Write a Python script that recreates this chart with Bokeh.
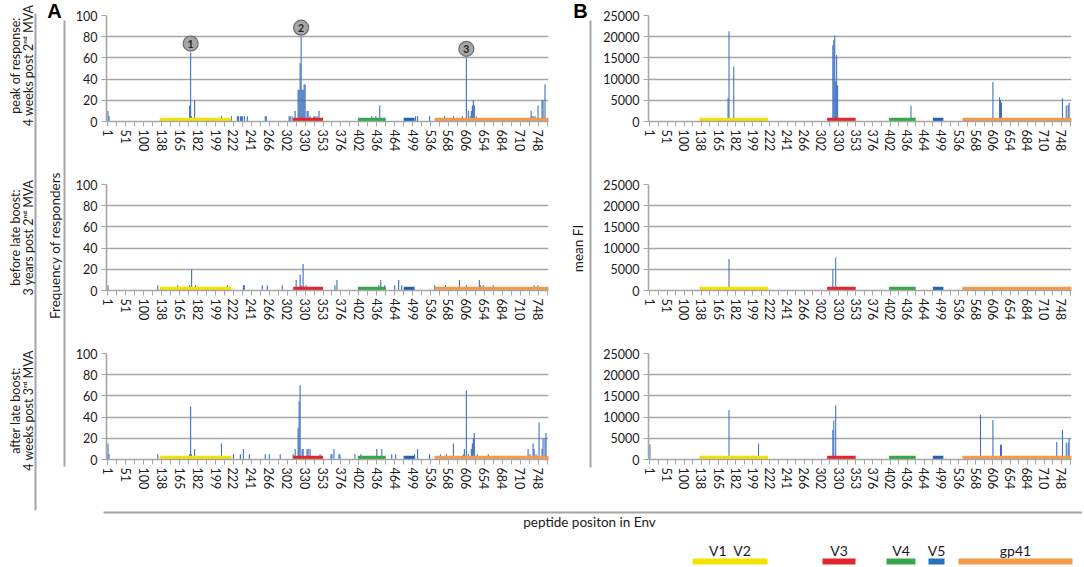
from math import pi
from bokeh.plotting import figure
from bokeh.layouts import row, column
from bokeh.models import Range1d, FixedTicker
from bokeh.core.properties import value
from bokeh.embed import file_html
from bokeh.resources import INLINE

# ---------------- data ----------------
tick_labels = ["1", "51", "100", "138", "165", "182", "199", "222", "241", "266", "302", "330", "353",
               "376", "402", "436", "464", "499", "536", "568", "606", "654", "684", "710", "748"]
label_step = 18          # categories between two labelled peptides
x_first, x_last = -1.5, 442.5

regions = ["V1 \u00a0V2", "V3", "V4", "V5", "gp41"]
region_start = [52, 186, 251, 297, 328]
region_end = [124, 216, 279, 308, 443]

# A: frequency of responders (%), peptide index -> value (others 0)
freq_peak = {0: 10, 1: 5, 82: 15, 83: 65, 84: 5, 87: 20, 114: 5, 124: 5, 130: 5, 131: 5, 133: 5,
             134: 5, 135: 5, 137: 5, 140: 5, 158: 5, 159: 5, 182: 5, 183: 5, 185: 5, 188: 10,
             191: 30, 192: 30, 193: 55, 194: 80, 195: 30, 196: 30, 197: 35, 198: 35, 200: 10,
             201: 10, 203: 5, 207: 5, 208: 5, 210: 5, 212: 10, 265: 5, 269: 5, 273: 15, 309: 5,
             311: 5, 323: 5, 338: 5, 347: 5, 356: 5, 360: 60, 362: 10, 364: 5, 365: 10, 366: 15,
             367: 20, 368: 15, 370: 5, 425: 10, 426: 5, 427: 5, 429: 5, 432: 15, 436: 20, 437: 20,
             439: 35}
freq_before = {0: 5, 50: 5, 70: 5, 82: 5, 84: 20, 88: 5, 120: 5, 136: 5, 137: 5, 155: 5, 160: 5,
               175: 5, 189: 10, 193: 15, 194: 5, 196: 25, 199: 5, 228: 5, 230: 10, 272: 5, 274: 10,
               278: 5, 288: 5, 292: 10, 295: 5, 328: 5, 339: 5, 353: 10, 360: 5, 373: 10, 374: 5,
               377: 5, 387: 5, 428: 5, 432: 5}
freq_after = {0: 15, 1: 5, 50: 5, 82: 5, 83: 50, 84: 5, 87: 10, 114: 15, 126: 5, 133: 5, 136: 10,
              142: 5, 158: 5, 162: 5, 173: 5, 186: 5, 188: 10, 191: 30, 192: 55, 193: 70, 195: 10,
              196: 10, 200: 10, 201: 10, 203: 10, 213: 5, 224: 5, 225: 5, 227: 10, 232: 5, 233: 5,
              248: 5, 254: 5, 270: 10, 275: 10, 285: 5, 289: 5, 308: 5, 311: 10, 323: 5, 334: 5,
              340: 5, 347: 15, 357: 5, 358: 10, 360: 65, 362: 5, 365: 10, 366: 15, 367: 20, 368: 25,
              371: 5, 382: 5, 422: 10, 424: 5, 427: 15, 428: 10, 430: 5, 433: 35, 436: 10, 437: 20,
              439: 20, 440: 25}
# B: mean FI
fi_peak = {82: 5500, 83: 21300, 88: 13000, 192: 18000, 193: 19300, 194: 20300, 195: 9500,
           196: 15700, 197: 8500, 274: 3800, 360: 9300, 367: 5700, 368: 5000, 369: 4400,
           433: 5500, 437: 3800, 439: 3900, 440: 4400}
fi_before = {83: 7400, 192: 5000, 195: 7800}
fi_after = {0: 3600, 83: 11700, 114: 3700, 192: 7000, 193: 9200, 195: 12800, 347: 10500, 360: 9300,
            368: 3500, 369: 3500, 427: 4100, 433: 7000, 437: 4000, 439: 4000, 440: 5100}

annotated = [83, 194, 360]
annot_labels = ["1", "2", "3"]

row_titles = [("peak of response:", "4 weeks post 2ⁿᵈ MVA"),
              ("before late boost:", "3 years post 2ⁿᵈ MVA"),
              ("after late boost:", "4 weeks post 3ʳᵈ MVA")]

# ---------------- style ----------------
FONT = "Lato"
BAR = "#3a6fc0"
GREY = "#a6a6a6"
TXT = "#1a1a1a"
region_colors = ["#f2e400", "#e3262b", "#37a84a", "#1e64b4", "#f39a4b"]
legend_colors = ["#f2e400", "#e3262b", "#37a84a", "#2571c0", "#f39a4b"]

label_ticks = [i * label_step for i in range(len(tick_labels))]
minor_ticks = [i * label_step + label_step // 2 for i in range(len(tick_labels))]


def panel(data, ymax, ystep, width, height, bl, br, bt, bb):
    p = figure(width=width, height=height, x_range=Range1d(x_first, x_last),
               y_range=Range1d(0, ymax), output_backend="svg", toolbar_location=None,
               min_border_left=bl, min_border_right=br, min_border_top=bt, min_border_bottom=bb)
    p.vbar(x=list(data.keys()), top=list(data.values()), bottom=0, width=1.1,
           fill_color=BAR, line_color=None)
    p.quad(left=region_start, right=region_end, bottom=ymax * 0.005, top=ymax * 0.036,
           fill_color=region_colors, line_color=None)
    p.outline_line_color = None
    p.xgrid.visible = False
    p.ygrid.grid_line_color = GREY
    p.ygrid.grid_line_width = 1.6
    xa, ya = p.xaxis[0], p.yaxis[0]
    xa.ticker = FixedTicker(ticks=label_ticks, minor_ticks=minor_ticks)
    xa.major_label_overrides = {t: s for t, s in zip(label_ticks, tick_labels)}
    xa.major_label_orientation = "vertical"
    xa.major_label_standoff = 3
    ya.ticker = FixedTicker(ticks=list(range(0, ymax + 1, ystep)))
    ya.major_label_standoff = 4
    for ax in (xa, ya):
        ax.axis_line_color = GREY
        ax.axis_line_width = 1.6
        ax.major_tick_line_color = GREY
        ax.minor_tick_line_color = GREY
        ax.major_tick_out = 5
        ax.major_tick_in = 0
        ax.minor_tick_out = 5
        ax.minor_tick_in = 0
        ax.major_label_text_font = FONT
        ax.major_label_text_font_size = "12.5px"
        ax.major_label_text_color = TXT
    ya.major_label_text_font_size = "12.5px"
    return p


def deco(width, height):
    p = figure(width=width, height=height, x_range=Range1d(0, width), y_range=Range1d(0, height),
               x_axis_type=None, y_axis_type=None, output_backend="svg", toolbar_location=None,
               min_border=0)
    p.grid.visible = False
    p.outline_line_color = None
    return p


# row geometry: (height, top border, bottom border)
rows_geo = [(170, 15, 49), (169, 14, 49), (166, 14, 46)]
freq_series = [freq_peak, freq_before, freq_after]
fi_series = [fi_peak, fi_before, fi_after]

colA, colB = [], []
for (h, t, b), fd, fid in zip(rows_geo, freq_series, fi_series):
    colA.append(panel(fd, 100, 20, 485, h, 36, 7, t, b))
    colB.append(panel(fid, 25000, 5000, 482, h, 43, 11, t, b))

# numbered markers over the three main peaks
a1 = colA[0]
ann_y = [freq_peak[i] + 8.5 for i in annotated]
a1.scatter(x=annotated, y=ann_y, size=15, fill_color="#a6a6a6", line_color="#6e6e6e", line_width=1.2)
a1.text(x=annotated, y=ann_y, text=annot_labels, text_align="center", text_baseline="middle",
        text_font=value(FONT), text_font_size="10.5px", text_font_style="bold", text_color="#262626")

TOTAL_H = 566

# ---- left decoration column (page x 0..70, y 0..566) ----
left = deco(70, TOTAL_H)
LY = lambda py: TOTAL_H - py
left.segment(x0=[35, 64], y0=[LY(13), LY(20)], x1=[35, 64], y1=[LY(510), LY(466)],
             line_color=GREY, line_width=2)
row_centers = [65, 237, 410]
left.text(x=[15] * 3, y=[LY(c) for c in row_centers], text=[t[0] for t in row_titles],
          angle=pi / 2, text_align="center", text_baseline="middle", text_font=value(FONT),
          text_font_size="12.5px", text_color=TXT)
left.text(x=[27.5] * 3, y=[LY(c) for c in row_centers], text=[t[1] for t in row_titles],
          angle=pi / 2, text_align="center", text_baseline="middle", text_font=value(FONT),
          text_font_size="12.5px", text_color=TXT)
left.text(x=[54], y=[LY(245)], text=["Frequency of responders"], angle=pi / 2,
          text_align="center", text_baseline="middle", text_font=value(FONT),
          text_font_size="13.5px", text_color=TXT)
left.text(x=[54], y=[LY(10)], text=["A"], text_align="center", text_baseline="middle",
          text_font=value("Liberation Sans"), text_font_size="20px", text_font_style="bold",
          text_color="black")

# ---- middle decoration column (page x 555..600, y 0..505) ----
mid = deco(45, 505)
M = lambda px: px - 555
MY = lambda py: 505 - py
mid.segment(x0=[M(590)], y0=[MY(20)], x1=[M(590)], y1=[MY(467)], line_color=GREY, line_width=2)
mid.text(x=[M(577)], y=[MY(248)], text=["mean FI"], angle=pi / 2, text_align="center",
         text_baseline="middle", text_font=value(FONT), text_font_size="13.5px", text_color=TXT)
mid.text(x=[M(580)], y=[MY(10)], text=["B"], text_align="center", text_baseline="middle",
         text_font=value("Liberation Sans"), text_font_size="20px", text_font_style="bold",
         text_color="black")

# ---- bottom strip: axis title + region legend (page x 70..1082, y 505..566) ----
bottom = deco(1012, TOTAL_H - 505)
Bx = lambda px: px - 70
By = lambda py: TOTAL_H - py
bottom.segment(x0=[Bx(103)], y0=[By(512)], x1=[Bx(1082)], y1=[By(512)], line_color=GREY, line_width=2)
bottom.text(x=[Bx(589)], y=[By(521)], text=["peptide positon in Env"], text_align="center",
            text_baseline="middle", text_font=value(FONT), text_font_size="13.5px", text_color=TXT)
legend_x0 = [692, 822, 886, 928, 958]
legend_x1 = [767, 855, 915, 944, 1072]
bottom.quad(left=[Bx(v) for v in legend_x0], right=[Bx(v) for v in legend_x1],
            bottom=By(564), top=By(558), fill_color=legend_colors, line_color=None)
bottom.text(x=[Bx((a + b) / 2) for a, b in zip(legend_x0, legend_x1)], y=[By(550)] * 5,
            text=regions, text_align="center", text_baseline="middle", text_font=value(FONT),
            text_font_size="14px", text_color=TXT)

layout = row(left, column(row(column(*colA), mid, column(*colB)), bottom))

open("out.html", "w").write(file_html(layout, INLINE, "Env peptide responses"))
